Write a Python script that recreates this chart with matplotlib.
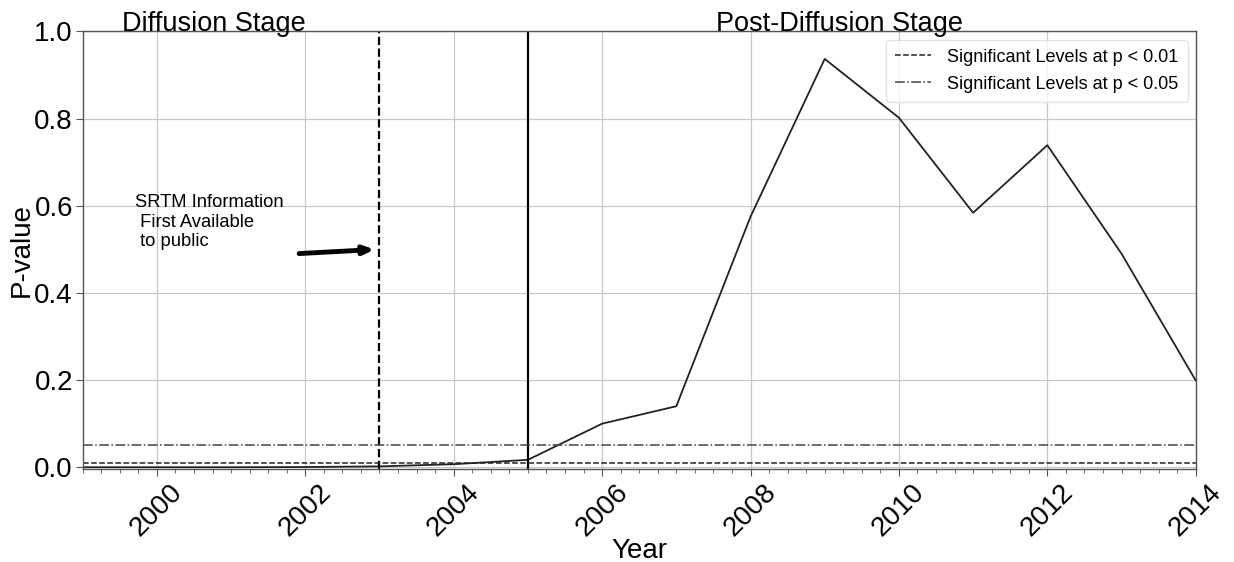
import matplotlib
matplotlib.use("Agg")
import matplotlib.pyplot as plt
from matplotlib.ticker import MultipleLocator

plt.rcParams['font.family'] = ['Liberation Sans', 'DejaVu Sans']

years = [1999, 2000, 2001, 2002, 2003, 2004, 2005, 2006, 2007, 2008, 2009, 2010, 2011, 2012, 2013, 2014]
pvalues = [0.0, 0.0, 0.0, 0.0005, 0.002, 0.007, 0.017, 0.10, 0.14, 0.575, 0.937, 0.802, 0.584, 0.739, 0.49, 0.199]
sig_01 = 0.01
sig_05 = 0.05
srtm_year = 2003
post_year = 2005
xticks = [2000, 2002, 2004, 2006, 2008, 2010, 2012, 2014]
yticks = [0.0, 0.2, 0.4, 0.6, 0.8, 1.0]

fig = plt.figure(figsize=(12.34, 5.62), dpi=100)
ax = fig.add_axes([0.067, 0.1655, 0.902, 0.7785])

ax.plot(years, pvalues, color='#222222', lw=1.3)
ax.axvline(srtm_year, color='black', ls='--', lw=1.6)
ax.axvline(post_year, color='black', ls='-', lw=1.6)
ax.axhline(sig_01, color='#222222', ls='--', lw=1.1, label='Significant Levels at p < 0.01')
ax.axhline(sig_05, color='#444444', ls='-.', lw=1.1, label='Significant Levels at p < 0.05')

ax.set_xlim(1999, 2014)
ax.set_ylim(-0.004, 1.0)
ax.set_xticks(xticks)
ax.set_xticklabels([str(t) for t in xticks], rotation=45, fontsize=20)
ax.set_yticks(yticks)
ax.set_yticklabels([f"{t:.1f}" for t in yticks], fontsize=20)
ax.xaxis.set_minor_locator(MultipleLocator(0.25))
ax.tick_params(axis='x', which='minor', length=3, color='#555555')
ax.tick_params(axis='both', which='major', length=5, color='#555555', pad=2)
ax.grid(True, which='major', color='#c8c8c8', lw=0.9)
ax.set_axisbelow(True)
for s in ax.spines.values():
    s.set_color('#555555')
    s.set_linewidth(1.0)

ax.set_xlabel('Year', fontsize=20, labelpad=-2)
ax.set_ylabel('P-value', fontsize=20, labelpad=0)

ax.text(0.118, 1.0, 'Diffusion Stage', transform=ax.transAxes, fontsize=19.5,
        ha='center', va='baseline')
ax.text(0.68, 1.0, 'Post-Diffusion Stage', transform=ax.transAxes, fontsize=19.5,
        ha='center', va='baseline')

ax.text(1999.7, 0.627, 'SRTM Information\n First Available\n to public', fontsize=13.2,
        ha='left', va='top', linespacing=1.2)
ax.annotate('', xy=(2002.97, 0.50), xytext=(2001.88, 0.49),
            arrowprops=dict(arrowstyle='-|>,head_length=0.6,head_width=0.25', color='black', lw=3.5))

leg = ax.legend(loc='upper right', fontsize=13, framealpha=0.8, edgecolor='#dddddd',
                handlelength=2.0, handletextpad=0.9, borderaxespad=0.45, labelspacing=0.55,
                borderpad=0.5)

fig.savefig('out.png', dpi=100)
